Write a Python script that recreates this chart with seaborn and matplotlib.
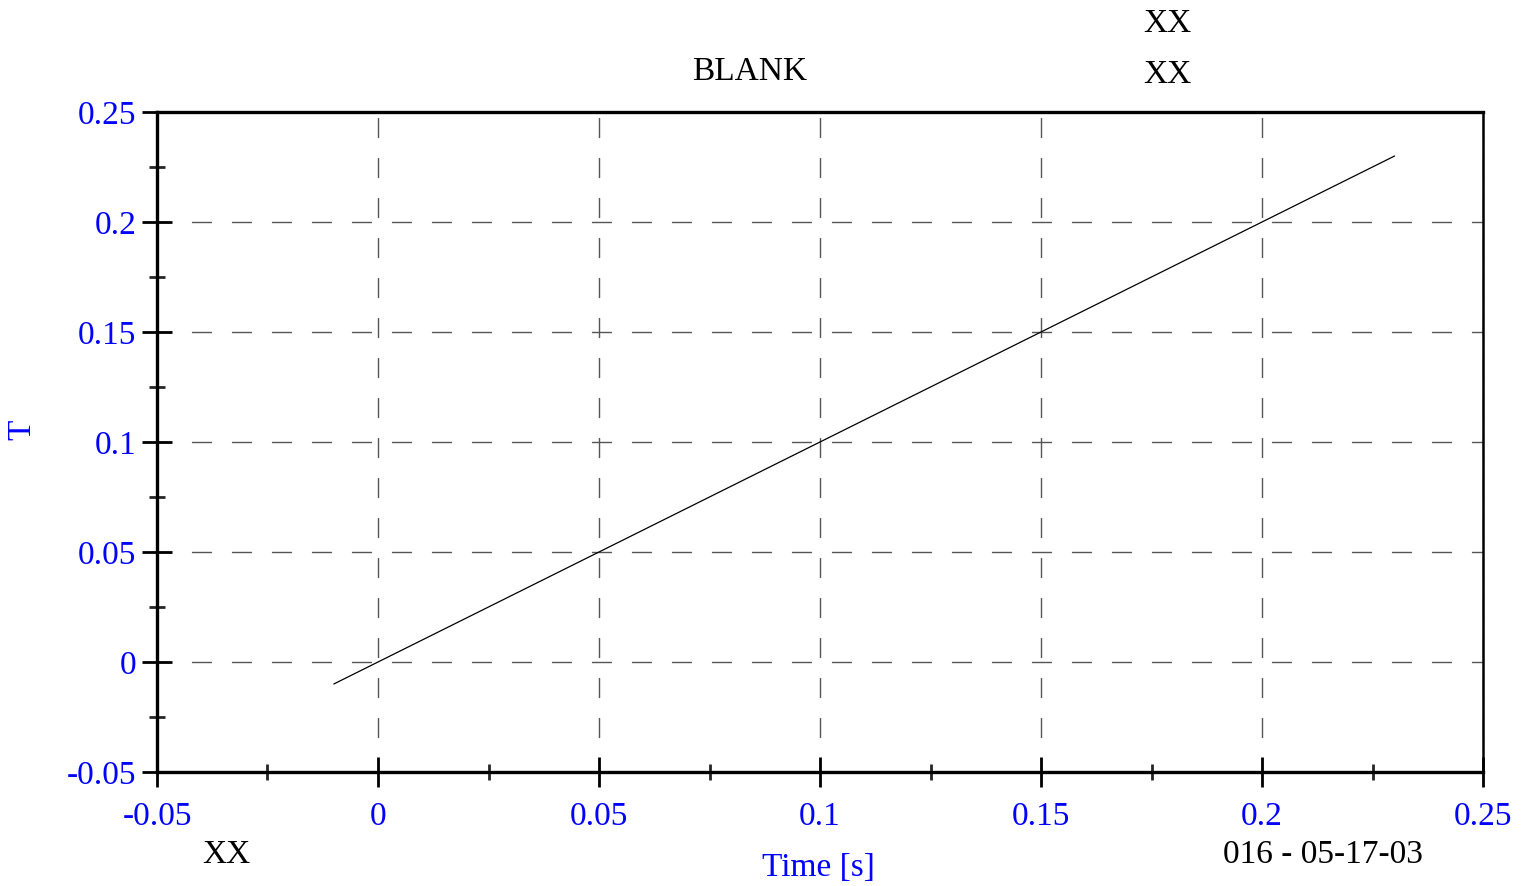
import pandas as pd
import seaborn as sns
import matplotlib.pyplot as plt
from matplotlib.ticker import MultipleLocator

# data
time_s = [-0.01, 0.05, 0.10, 0.15, 0.20, 0.23]
t_vals = [-0.01, 0.05, 0.10, 0.15, 0.20, 0.23]
x_ticks = [-0.05, 0, 0.05, 0.1, 0.15, 0.2, 0.25]
y_ticks = [-0.05, 0, 0.05, 0.1, 0.15, 0.2, 0.25]
tick_labels = ["-0.05", "0", "0.05", "0.1", "0.15", "0.2", "0.25"]

sns.set_style("white")
plt.rcParams['font.family'] = ['Liberation Serif', 'DejaVu Serif']

df = pd.DataFrame({"Time [s]": time_s, "T": t_vals})

fig = plt.figure(figsize=(15.34, 8.86), dpi=100)
ax = fig.add_axes([157 / 1534, 1 - 772 / 886, (1483 - 157) / 1534, (772 - 112) / 886])

sns.lineplot(data=df, x="Time [s]", y="T", ax=ax, color="black", linewidth=0.9)

ax.set_xlim(-0.05, 0.25)
ax.set_ylim(-0.05, 0.25)
ax.set_xticks(x_ticks)
ax.set_yticks(y_ticks)
ax.set_xticklabels(tick_labels)
ax.set_yticklabels(tick_labels)
ax.xaxis.set_minor_locator(MultipleLocator(0.025))
ax.yaxis.set_minor_locator(MultipleLocator(0.025))

ax.grid(True, which="major", color="#555555", linestyle=(4, (14.4, 14.4)), linewidth=1.0)
ax.set_axisbelow(True)

for side in ["left", "bottom", "top"]:
    ax.spines[side].set_linewidth(2.4)
    ax.spines[side].set_color("black")
ax.spines["right"].set_linewidth(1.8)
ax.spines["right"].set_color("black")

ax.tick_params(axis="both", which="major", direction="inout", length=22, width=2,
               labelsize=24, colors="black")
ax.tick_params(axis="x", which="major", pad=10)
ax.tick_params(axis="y", which="major", pad=4)
ax.tick_params(axis="both", which="minor", direction="inout", length=12, width=2)
ax.tick_params(axis="y", which="both", left=True, right=False)
ax.tick_params(axis="x", which="both", bottom=True, top=False)
for lab in ax.get_yticklabels() + ax.get_xticklabels():
    lab.set_color("blue")

ax.set_xlabel("")
ax.set_ylabel("")

fig.text(818 / 1534, 1 - 868 / 886, "Time [s]", color="blue", fontsize=24, ha="center", va="center")
fig.text(22 / 1534, 1 - 430 / 886, "T", color="blue", fontsize=24, ha="center", va="center", rotation=90)
fig.text(750 / 1534, 1 - 72 / 886, "BLANK", color="black", fontsize=24, ha="center", va="center")
fig.text(1167 / 1534, 1 - 24 / 886, "XX", color="black", fontsize=24, ha="center", va="center")
fig.text(1167 / 1534, 1 - 75 / 886, "XX", color="black", fontsize=24, ha="center", va="center")
fig.text(226 / 1534, 1 - 855 / 886, "XX", color="black", fontsize=24, ha="center", va="center")
fig.text(1323 / 1534, 1 - 855 / 886, "016 - 05-17-03", color="black", fontsize=24, ha="center", va="center")

fig.savefig("out.png", dpi=100)
